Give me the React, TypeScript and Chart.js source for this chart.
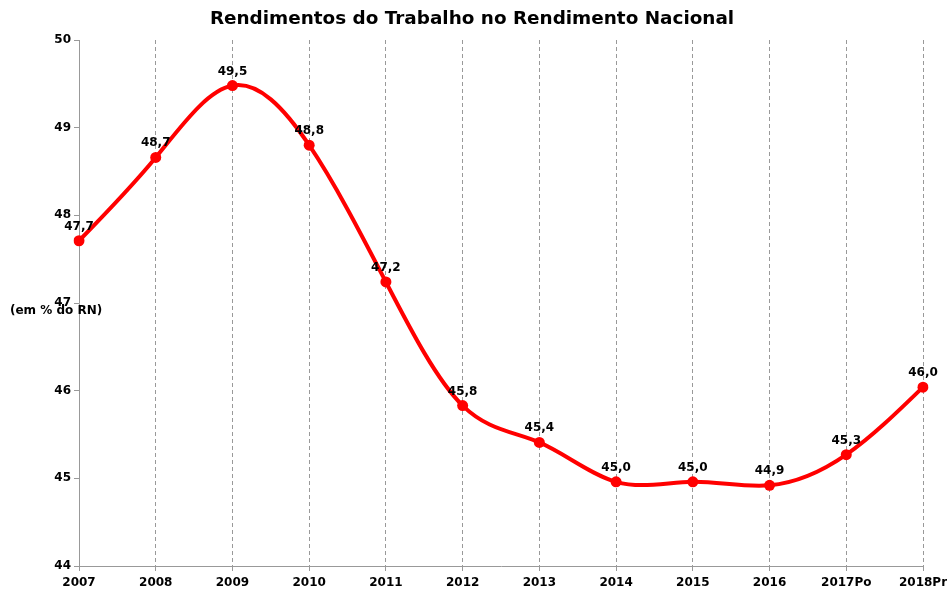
import React, { useEffect, useRef } from "react";
import { Chart, registerables } from "chart.js";

Chart.register(...registerables);

const categories = ["2007", "2008", "2009", "2010", "2011", "2012", "2013", "2014", "2015", "2016", "2017Po", "2018Pr"];
const values = [47.71, 48.66, 49.48, 48.8, 47.24, 45.83, 45.41, 44.96, 44.96, 44.92, 45.27, 46.04];
const yTicks = [44, 45, 46, 47, 48, 49, 50];
const titleText = "Rendimentos do Trabalho no Rendimento Nacional";
const yAxisTitle = "(em % do RN)";

const FONT = "'DejaVu Sans', sans-serif";

// Natural cubic spline control points, computed from the points the library placed
const splinePlugin = {
  id: "naturalSpline",
  beforeDatasetDraw(chart: any, args: any) {
    const meta = args.meta;
    const line = meta.dataset;
    if (!line) return;
    line.updateControlPoints(chart.chartArea, "x");
    const pts = meta.data;
    const n = pts.length;
    if (n < 3) return;
    const h = (pts[n - 1].x - pts[0].x) / (n - 1);
    const y = pts.map((p: any) => p.y);
    const M = new Array(n).fill(0);
    const m = n - 2;
    const a = new Array(m).fill(1);
    const b = new Array(m).fill(4);
    const c = new Array(m).fill(1);
    const d = new Array(m);
    for (let i = 1; i <= m; i++) d[i - 1] = (6 * (y[i + 1] - 2 * y[i] + y[i - 1])) / (h * h);
    for (let i = 1; i < m; i++) {
      const w = a[i] / b[i - 1];
      b[i] -= w * c[i - 1];
      d[i] -= w * d[i - 1];
    }
    const sol = new Array(m);
    sol[m - 1] = d[m - 1] / b[m - 1];
    for (let i = m - 2; i >= 0; i--) sol[i] = (d[i] - c[i] * sol[i + 1]) / b[i];
    for (let i = 0; i < m; i++) M[i + 1] = sol[i];
    const slope = new Array(n);
    for (let i = 0; i < n - 1; i++) slope[i] = (y[i + 1] - y[i]) / h - (h * (2 * M[i] + M[i + 1])) / 6;
    slope[n - 1] = (y[n - 1] - y[n - 2]) / h + (h * (M[n - 2] + 2 * M[n - 1])) / 6;
    for (let i = 0; i < n; i++) {
      const p = pts[i];
      p.cp1x = p.x - h / 3;
      p.cp1y = p.y - (slope[i] * h) / 3;
      p.cp2x = p.x + h / 3;
      p.cp2y = p.y + (slope[i] * h) / 3;
    }
  },
};

const overlayPlugin = {
  id: "overlay",
  afterDraw(chart: any) {
    const ctx = chart.ctx;
    const meta = chart.getDatasetMeta(0);
    ctx.save();
    ctx.fillStyle = "#000";
    ctx.font = `bold 12px ${FONT}`;
    ctx.textAlign = "center";
    ctx.textBaseline = "alphabetic";
    meta.data.forEach((pt: any, i: number) => {
      const label = values[i].toFixed(1).replace(".", ",");
      ctx.fillText(label, pt.x, pt.y - 11);
    });
    ctx.textAlign = "left";
    ctx.textBaseline = "middle";
    ctx.fillText(yAxisTitle, 10, 311);
    ctx.font = `bold 18.4px ${FONT}`;
    ctx.textAlign = "center";
    ctx.fillText(titleText, 472, 19);
    ctx.restore();
  },
};

export default function App() {
  const ref = useRef<HTMLCanvasElement | null>(null);
  useEffect(() => {
    if (!ref.current) return;
    const chart = new Chart(ref.current, {
      type: "line",
      data: {
        labels: categories,
        datasets: [
          {
            data: values,
            borderColor: "#ff0000",
            backgroundColor: "#ff0000",
            borderWidth: 4,
            pointRadius: 5.5,
            pointBackgroundColor: "#ff0000",
            pointBorderWidth: 0,
            tension: 0.4,
            fill: false,
          },
        ],
      },
      options: {
        animation: false,
        responsive: false,
        maintainAspectRatio: false,
        layout: { padding: { top: 40, right: 24, left: 0, bottom: 0 } },
        plugins: {
          legend: { display: false },
          title: { display: false },
          tooltip: { enabled: false },
        },
        scales: {
          x: {
            offset: false,
            grid: {
              color: "#999999",
              lineWidth: 1,
              drawTicks: true,
              tickLength: 5,
              tickColor: "#999999",
              tickBorderDash: [],
            },
            border: { display: true, color: "#999999", width: 1, dash: [4, 3] },
            ticks: {
              color: "#000",
              font: { family: FONT, size: 12, weight: "bold" },
              padding: 5,
              maxRotation: 0,
              autoSkip: false,
            },
            afterFit: (s: any) => {
              s.height = 23;
              s.paddingLeft = 0;
              s.paddingRight = 0;
            },
          },
          y: {
            min: 44,
            max: 50,
            afterBuildTicks: (s: any) => {
              s.ticks = yTicks.map((v) => ({ value: v }));
            },
            grid: {
              drawOnChartArea: false,
              drawTicks: true,
              tickLength: 5,
              tickColor: "#999999",
            },
            border: { display: true, color: "#999999", width: 1 },
            ticks: {
              color: "#000",
              font: { family: FONT, size: 12, weight: "bold" },
              padding: 3,
            },
            afterFit: (s: any) => {
              s.width = 79;
            },
          },
        },
      },
      plugins: [splinePlugin, overlayPlugin],
    });
    return () => chart.destroy();
  }, []);
  return (
    <div style={{ position: "absolute", left: 0, top: 0, width: 947, height: 589, background: "#fff" }}>
      <canvas ref={ref} width={947} height={589} style={{ width: 947, height: 589, display: "block" }} />
    </div>
  );
}
